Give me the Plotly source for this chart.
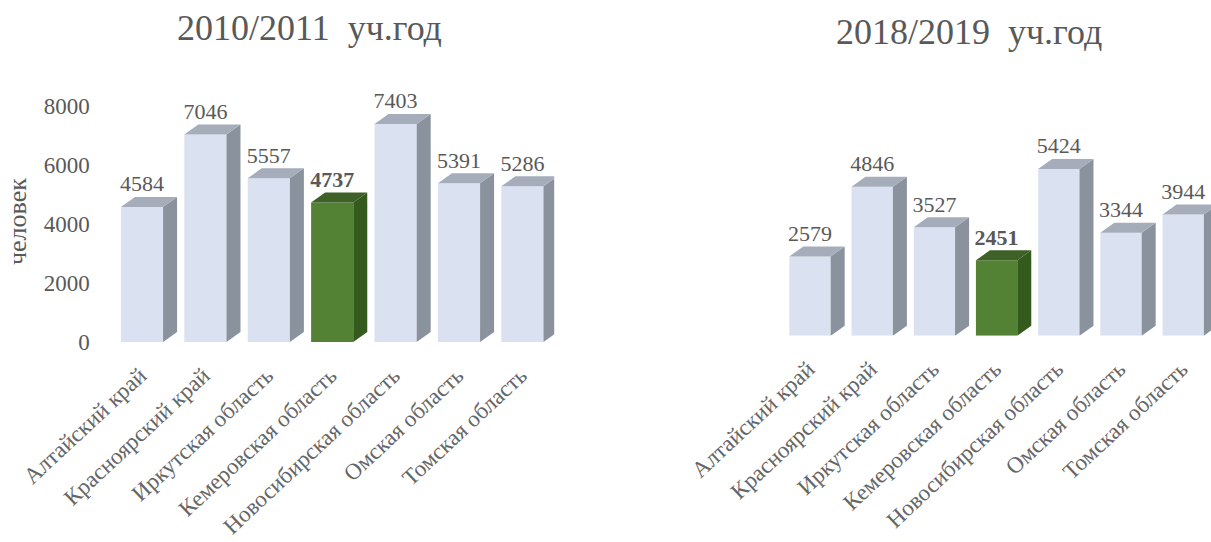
import plotly.graph_objects as go

regions = ["Алтайский край", "Красноярский край", "Иркутская область", "Кемеровская область",
           "Новосибирская область", "Омская область", "Томская область"]
values_2010 = [4584, 7046, 5557, 4737, 7403, 5391, 5286]
values_2018 = [2579, 4846, 3527, 2451, 5424, 3344, 3944]
highlight = "Кемеровская область"
title_2010 = "2010/2011  уч.год"
title_2018 = "2018/2019  уч.год"
y_ticks = [0, 2000, 4000, 6000, 8000]

W, H = 1211, 542
TXT = "#595959"
FONT = "Liberation Serif"
FACE = {"n": ("#DAE1F0", "#A5ADBB", "#8A929E"), "h": ("#548235", "#3D6126", "#355A1E")}
BAR_W = 0.665

# dom = pixel span of the plot area, pitch = pixels per category, c0 = pixel centre of first bar
panels = [
    dict(vals=values_2010, title=title_2010, xa="x", ya="y", dom=(110.3, 554.2), c0=142, pitch=63.4,
         base=342, top=106.4, tx=309, ty=28),
    dict(vals=values_2018, title=title_2018, xa="x2", ya="y2", dom=(778.9, 1211), c0=810, pitch=62.2,
         base=335.7, top=89.7, tx=969, ty=32),
]

fig = go.Figure()
for p in panels:
    dx = 14 / p["pitch"]
    dy = 10 * 8000 / (p["base"] - p["top"])
    xs = list(range(len(regions)))
    colors = [FACE["h" if r == highlight else "n"] for r in regions]
    fig.add_trace(go.Bar(x=xs, y=p["vals"], width=BAR_W, marker=dict(color=[c[0] for c in colors], line_width=0),
                         xaxis=p["xa"], yaxis=p["ya"], showlegend=False, hoverinfo="skip"))
    for i, v in enumerate(p["vals"]):
        l, r = i - BAR_W / 2, i + BAR_W / 2
        fig.add_trace(go.Scatter(x=[r, r + dx, r + dx, r, r], y=[0, dy, v + dy, v, 0], mode="lines", fill="toself",
                                 fillcolor=colors[i][2], line_width=0, xaxis=p["xa"], yaxis=p["ya"],
                                 showlegend=False, hoverinfo="skip"))
        fig.add_trace(go.Scatter(x=[l, r, r + dx, l + dx, l], y=[v, v, v + dy, v + dy, v], mode="lines", fill="toself",
                                 fillcolor=colors[i][1], line_width=0, xaxis=p["xa"], yaxis=p["ya"],
                                 showlegend=False, hoverinfo="skip"))
    labels = [f"<b>{v}</b>" if r == highlight else str(v) for r, v in zip(regions, p["vals"])]
    fig.add_trace(go.Scatter(x=xs, y=[v + dy for v in p["vals"]], mode="text", text=labels,
                             textposition="top center", textfont=dict(family=FONT, size=22, color=TXT),
                             cliponaxis=False, xaxis=p["xa"], yaxis=p["ya"], showlegend=False, hoverinfo="skip"))
    fig.add_annotation(text=p["title"], x=p["tx"] / W, y=1 - p["ty"] / H, xref="paper", yref="paper",
                       showarrow=False, xanchor="center", yanchor="middle",
                       font=dict(family=FONT, size=36, color=TXT))

fig.add_annotation(text="человек", x=17 / W, y=1 - 222 / H, xref="paper", yref="paper", showarrow=False,
                   textangle=-90, xanchor="center", yanchor="middle", font=dict(family=FONT, size=26, color=TXT))

def xaxis(p):
    x0, x1 = p["dom"]
    rng = [(x0 - p["c0"]) / p["pitch"], (x1 - p["c0"]) / p["pitch"]]
    return dict(domain=[x0 / W, x1 / W], range=rng, tickmode="array", automargin=False,
                tickvals=[i - 0.03 for i in range(len(regions))], ticktext=regions, tickangle=-43,
                ticks="outside", ticklen=10,
                tickcolor="rgba(0,0,0,0)", showgrid=False, zeroline=False, showline=False,
                tickfont=dict(family=FONT, size=23, color="#666666"), anchor=p["ya"])

def yaxis(p, show):
    return dict(domain=[1 - p["base"] / H, 1 - p["top"] / H], range=[0, 8000], tickmode="array", tickvals=y_ticks,
                automargin=False,
                showgrid=False, zeroline=False, showline=False, showticklabels=show, ticks="outside" if show else "",
                ticklen=15, tickcolor="rgba(0,0,0,0)", tickfont=dict(family=FONT, size=23, color=TXT),
                anchor=p["xa"])

fig.update_layout(width=W, height=H, margin=dict(l=0, r=0, t=0, b=0), paper_bgcolor="white", plot_bgcolor="white",
                  xaxis=xaxis(panels[0]), yaxis=yaxis(panels[0], True),
                  xaxis2=xaxis(panels[1]), yaxis2=yaxis(panels[1], False), bargap=0.35)

fig.write_html("out.html", config={"displayModeBar": False}, post_script="document.body.style.margin='0';")
